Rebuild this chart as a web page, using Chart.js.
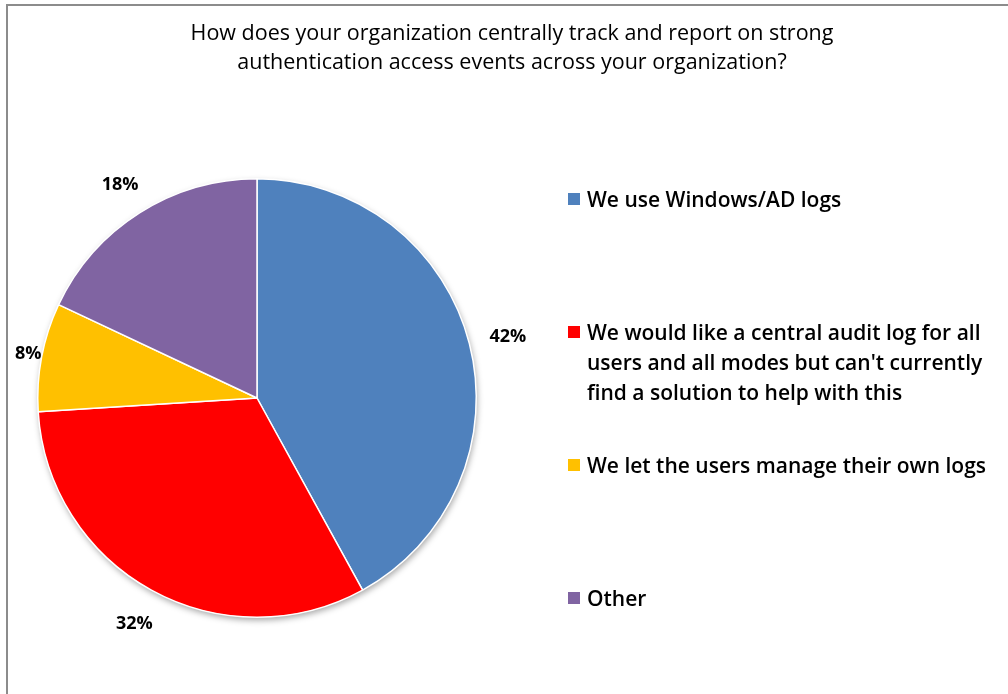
<!DOCTYPE html>
<html>
<head>
<meta charset="utf-8">
<script src="https://cdn.jsdelivr.net/npm/chart.js@4.4.0/dist/chart.umd.min.js"></script>
<style>
html, body { margin: 0; padding: 0; background: #fff; }
#wrap { position: relative; width: 1008px; height: 694px; overflow: hidden; }
#frame { position: absolute; left: 6px; top: 4px; right: -10px; bottom: -10px;
         border-top: 2px solid #8c8c8c; border-left: 2px solid #8c8c8c; }
canvas { position: absolute; left: 0; top: 0; }
</style>
</head>
<body>
<div id="wrap">
  <div id="frame"></div>
  <canvas id="pie-chart" width="1008" height="694"></canvas>
</div>
<script>
const titleLines = [
    'How does your organization centrally track and report on strong',
    'authentication access events across your organization?'
];
const answers = [
    ['We use Windows/AD logs'],
    ['We would like a central audit log for all',
     'users and all modes but can\'t currently',
     'find a solution to help with this'],
    ['We let the users manage their own logs'],
    ['Other']
];
const shares = [42, 32, 8, 18];
const sliceColors = ['#4F81BD', '#FF0000', '#FFC000', '#8064A2'];

const textFont = '"Open Sans", Lato, sans-serif';

// title, percentage labels and the legend on the right
const surveyText = {
    id: 'surveyText',
    beforeDatasetsDraw(chart) {
        const ctx = chart.ctx;
        const arc = chart.getDatasetMeta(0).data[0];
        if (!arc) return;
        const p = arc.getProps(['x', 'y', 'outerRadius'], true);
        ctx.save();
        ctx.shadowColor = 'rgba(0,0,0,0.35)';
        ctx.shadowBlur = 6;
        ctx.shadowOffsetX = 1;
        ctx.shadowOffsetY = 3;
        ctx.fillStyle = '#fff';
        ctx.beginPath();
        ctx.arc(p.x, p.y, p.outerRadius, 0, Math.PI * 2);
        ctx.fill();
        ctx.restore();
    },
    afterDraw(chart) {
        const ctx = chart.ctx;
        ctx.save();
        ctx.fillStyle = '#000';
        ctx.textBaseline = 'middle';

        // title
        ctx.textAlign = 'center';
        ctx.font = '21.5px ' + textFont;
        titleLines.forEach((line, i) => ctx.fillText(line, 512, 34 + i * 29));

        // percentage labels outside each slice
        ctx.font = 'bold 18px ' + textFont;
        const labelH = 15;
        chart.getDatasetMeta(0).data.forEach((el, i) => {
            const p = el.getProps(['x', 'y', 'startAngle', 'endAngle', 'outerRadius'], true);
            const mid = (p.startAngle + p.endAngle) / 2;
            const ux = Math.cos(mid), uy = Math.sin(mid);
            const text = shares[i] + '%';
            const w = ctx.measureText(text).width;
            const extent = w / 2 * Math.abs(ux) + labelH / 2 * Math.abs(uy);
            const d = p.outerRadius + 20 + extent;
            let cx = p.x + ux * d;
            const cy = p.y + uy * d;
            cx = Math.max(cx, 15 + w / 2);
            ctx.fillText(text, cx, cy + 3);
        });

        // legend
        ctx.textAlign = 'left';
        ctx.font = '600 21px ' + textFont;
        const legendX = 568, legendTop = 199, step = 133, lineGap = 30;
        answers.forEach((lines, i) => {
            const y = legendTop + i * step;
            ctx.fillStyle = sliceColors[i];
            ctx.fillRect(legendX, y - 6, 12, 12);
            ctx.fillStyle = '#000';
            lines.forEach((line, j) => ctx.fillText(line, legendX + 19, y + 2 + j * lineGap));
        });
        ctx.restore();
    }
};

new Chart(document.getElementById('pie-chart'), {
    type: 'pie',
    data: {
        labels: answers.map(a => a.join(' ')),
        datasets: [{
            data: shares,
            backgroundColor: sliceColors,
            borderColor: '#ffffff',
            borderWidth: 1.5
        }]
    },
    options: {
        responsive: false,
        animation: false,
        layout: { padding: { left: 37, top: 178, right: 531, bottom: 76 } },
        plugins: {
            legend: { display: false },
            tooltip: { enabled: false },
            title: { display: false }
        }
    },
    plugins: [surveyText]
});
</script>
</body>
</html>
